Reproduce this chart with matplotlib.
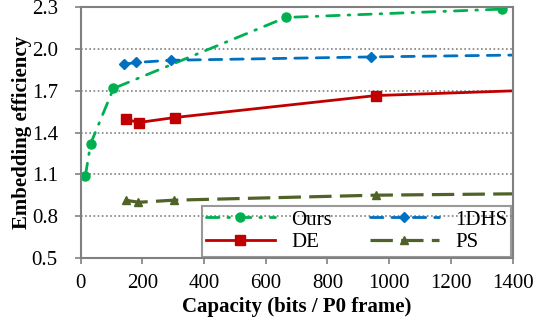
import matplotlib
matplotlib.use("Agg")
import matplotlib.pyplot as plt

plt.rcParams['font.family'] = ['Liberation Serif', 'DejaVu Serif']

# Embedding efficiency vs. capacity for each method
ours_x = [15, 32, 106, 665, 1365]
ours_y = [1.09, 1.32, 1.717, 2.228, 2.288]

dhs_x = [140, 178, 294, 941, 1600]
dhs_y = [1.89, 1.904, 1.92, 1.944, 1.963]

de_x = [145, 188, 305, 957, 1600]
de_y = [1.496, 1.472, 1.508, 1.666, 1.715]

ps_x = [145, 187, 301, 956, 1600]
ps_y = [0.913, 0.898, 0.913, 0.949, 0.963]

xticks = [0, 200, 400, 600, 800, 1000, 1200, 1400]
yticks = [0.5, 0.8, 1.1, 1.4, 1.7, 2.0, 2.3]

fig = plt.figure(figsize=(5.35, 3.24), dpi=100)
ax = fig.add_axes([0.151, 0.205, 0.807, 0.772])

green = '#00B050'
blue = '#0070C0'
red = '#C00000'
olive = '#4F6228'

# Lines with last markers beyond the right edge hidden by clipping
l_ours, = ax.plot(ours_x, ours_y, color=green, lw=2.0, marker='o', ms=6.5,
                  label='Ours', dash_capstyle='round')
l_ours.set_dashes((4.5, 3.2, 0.6, 3.2))

l_dhs, = ax.plot(dhs_x, dhs_y, color=blue, lw=2.0, marker='D', ms=5,
                 label='1DHS', dash_capstyle='round')
l_dhs.set_dashes((4.5, 3.2))

l_de, = ax.plot(de_x, de_y, color=red, lw=2.0, marker='s', ms=6.5,
                label='DE')

l_ps, = ax.plot(ps_x, ps_y, color=olive, lw=2.3, marker='^', ms=6,
                label='PS')
l_ps.set_dashes((7, 2.6))

ax.set_xlim(0, 1400)
ax.set_ylim(0.5, 2.3)
ax.set_xticks(xticks)
ax.set_yticks(yticks)
ax.set_yticklabels([f'{v:.1f}' for v in yticks])

for g in [0.8, 1.1, 1.4, 1.7, 2.0]:
    ax.axhline(g, color='#808080', lw=1.2, ls=(0, (1, 1.5)), zorder=0)

for s in ax.spines.values():
    s.set_color('#808080')
    s.set_linewidth(1.5)

ax.tick_params(axis='both', direction='out', color='#808080', width=1.2,
               length=4.5, labelsize=15)
ax.tick_params(axis='y', pad=12)
ax.tick_params(axis='x', pad=7)

ax.set_xlabel('Capacity (bits / P0 frame)', fontsize=15, fontweight='bold',
              labelpad=3)
ax.set_ylabel('Embedding efficiency', fontsize=15, fontweight='bold',
              labelpad=0)

# Row-wise legend order: Ours, 1DHS / DE, PS
handles = [l_ours, l_de, l_dhs, l_ps]
labels = [h.get_label() for h in handles]
leg = ax.legend(handles, labels, ncol=2, loc='lower right',
                bbox_to_anchor=(1.0, 0.0),
                fontsize=15, frameon=True, fancybox=False,
                handlelength=3.3, columnspacing=1.8, handletextpad=0.8,
                borderpad=0.2, labelspacing=0.15, borderaxespad=0.05)
leg.get_frame().set_edgecolor('#808080')
leg.get_frame().set_linewidth(1.5)
leg.get_frame().set_facecolor('none')

fig.savefig('out.png', dpi=100)
